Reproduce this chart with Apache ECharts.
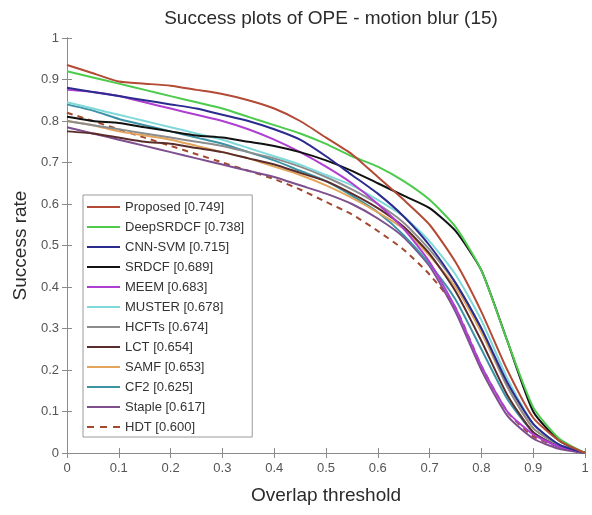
<!DOCTYPE html>
<html>
<head>
<meta charset="utf-8">
<script src="https://cdn.jsdelivr.net/npm/echarts@6/dist/echarts.min.js"></script>
<style>html,body{margin:0;padding:0;background:#fff;}#c{width:592px;height:515px;}</style>
</head>
<body>
<div id="c"></div>
<script>
var thresholds = [0,0.05,0.1,0.15,0.2,0.25,0.3,0.35,0.4,0.45,0.5,0.55,0.6,0.65,0.7,0.75,0.8,0.85,0.9,0.95,1];
var names = ['Proposed [0.749]','DeepSRDCF [0.738]','CNN-SVM [0.715]','SRDCF [0.689]','MEEM [0.683]','MUSTER [0.678]','HCFTs [0.674]','LCT [0.654]','SAMF [0.653]','CF2 [0.625]','Staple [0.617]','HDT [0.600]'];
var proposed  = [0.935,0.915,0.895,0.89,0.885,0.875,0.865,0.85,0.83,0.80,0.76,0.72,0.665,0.61,0.55,0.46,0.34,0.20,0.085,0.03,0];
var deepsrdcf = [0.92,0.905,0.89,0.875,0.86,0.845,0.83,0.81,0.79,0.77,0.745,0.715,0.69,0.655,0.61,0.545,0.44,0.27,0.11,0.035,0];
var cnnsvm    = [0.88,0.87,0.86,0.85,0.84,0.83,0.815,0.80,0.78,0.755,0.715,0.67,0.625,0.57,0.50,0.41,0.30,0.17,0.07,0.02,0];
var srdcf     = [0.81,0.80,0.795,0.785,0.775,0.765,0.76,0.75,0.74,0.725,0.705,0.68,0.65,0.62,0.59,0.535,0.44,0.27,0.10,0.03,0];
var meem      = [0.875,0.87,0.86,0.845,0.83,0.815,0.80,0.78,0.755,0.725,0.69,0.65,0.60,0.54,0.46,0.35,0.21,0.10,0.045,0.015,0];
var muster    = [0.845,0.83,0.815,0.80,0.785,0.77,0.755,0.735,0.715,0.695,0.67,0.645,0.61,0.57,0.51,0.43,0.32,0.18,0.07,0.02,0];
var hcfts     = [0.80,0.79,0.78,0.77,0.76,0.75,0.74,0.725,0.71,0.69,0.665,0.635,0.60,0.555,0.49,0.41,0.30,0.16,0.06,0.02,0];
var lct       = [0.775,0.77,0.76,0.75,0.745,0.735,0.725,0.71,0.695,0.675,0.655,0.625,0.59,0.545,0.48,0.39,0.27,0.14,0.05,0.015,0];
var samf      = [0.80,0.79,0.775,0.765,0.755,0.74,0.725,0.71,0.69,0.67,0.645,0.615,0.58,0.54,0.475,0.40,0.29,0.16,0.06,0.02,0];
var cf2       = [0.84,0.825,0.805,0.79,0.775,0.76,0.745,0.725,0.705,0.68,0.655,0.62,0.58,0.525,0.455,0.37,0.25,0.13,0.05,0.015,0];
var staple    = [0.785,0.77,0.755,0.74,0.725,0.71,0.695,0.68,0.665,0.645,0.625,0.60,0.565,0.52,0.45,0.34,0.20,0.09,0.035,0.01,0];
var hdt       = [0.82,0.80,0.78,0.76,0.74,0.72,0.70,0.68,0.66,0.635,0.605,0.575,0.535,0.49,0.43,0.35,0.21,0.10,0.04,0.015,0];
var xTicks = [0,0.1,0.2,0.3,0.4,0.5,0.6,0.7,0.8,0.9,1];
var yTicks = [0,0.1,0.2,0.3,0.4,0.5,0.6,0.7,0.8,0.9,1];

var allData = [proposed,deepsrdcf,cnnsvm,srdcf,meem,muster,hcfts,lct,samf,cf2,staple,hdt];
var colors = ['#b34a36','#4ccb4c','#2b2b8f','#111111','#b03ed2','#80d9d9','#8c8c8c','#5a2c2c','#e3a55c','#3c93a6','#7e4f8e','#a24a2e'];
var FONT = 'Liberation Sans, Arial, Helvetica, sans-serif';
var SOLID_ICON = 'path://M0,0 H33 V2 H0 Z';
var DASH_ICON = 'path://M0,0 H7 V2 H0 Z M13,0 H20 V2 H13 Z M26,0 H33 V2 H26 Z';

var series = allData.map(function(d, i){
  return {
    name: names[i], type: 'line', xAxisIndex: 0, yAxisIndex: 0,
    data: thresholds.map(function(t, k){ return [t, d[k]]; }),
    showSymbol: false, symbol: 'none', smooth: 0.2,
    lineStyle: {color: colors[i], width: 2, type: i === 11 ? [6,5] : 'solid'},
    itemStyle: {color: colors[i]},
    z: 20 - i
  };
});

var legendData = names.map(function(n, i){
  return {name: n, icon: i === 11 ? DASH_ICON : SOLID_ICON, itemStyle: {color: colors[i], borderWidth: 0}};
});

var axisColor = '#8a8a8a';
function fmt(v){ return String(+(+v).toFixed(1)); }
var chart = echarts.init(document.getElementById('c'), null, {renderer: 'canvas'});
chart.setOption({
  animation: false,
  backgroundColor: '#fff',
  title: {text: 'Success plots of OPE - motion blur (15)', left: 326, textAlign: 'center', top: 4,
    textStyle: {fontFamily: FONT, fontSize: 19, fontWeight: 'normal', color: '#2b2b2b'}},
  grid: {left: 67, top: 38, width: 518, height: 415},
  legend: {
    orient: 'vertical', left: 83, top: 195, padding: [5, 8, 3, 4],
    itemWidth: 33, itemHeight: 2.5, itemGap: 6,
    backgroundColor: '#fff', borderColor: '#9a9a9a', borderWidth: 1,
    textStyle: {fontFamily: FONT, fontSize: 13, color: '#333', lineHeight: 14, height: 14},
    data: legendData
  },
  xAxis: [
    {type: 'value', min: 0, max: 1, interval: 0.1, position: 'bottom',
      name: 'Overlap threshold', nameLocation: 'middle', nameGap: 33,
      nameTextStyle: {fontFamily: FONT, fontSize: 19, color: '#2b2b2b'},
      axisLine: {lineStyle: {color: axisColor}}, axisTick: {inside: true, length: 5, lineStyle: {color: axisColor}},
      axisLabel: {fontFamily: FONT, fontSize: 13, color: '#555', margin: 9, formatter: fmt},
      splitLine: {show: false}},
    {type: 'value', min: 0, max: 1, interval: 0.1, position: 'top',
      axisLine: {lineStyle: {color: axisColor}}, axisTick: {inside: true, length: 5, lineStyle: {color: axisColor}},
      axisLabel: {show: false}, splitLine: {show: false}}
  ],
  yAxis: [
    {type: 'value', min: 0, max: 1, interval: 0.1, position: 'left',
      name: 'Success rate', nameLocation: 'middle', nameGap: 35, nameRotate: 90,
      nameTextStyle: {fontFamily: FONT, fontSize: 19, color: '#2b2b2b'},
      axisLine: {show: true, lineStyle: {color: axisColor}}, axisTick: {show: true, inside: true, length: 5, lineStyle: {color: axisColor}},
      axisLabel: {fontFamily: FONT, fontSize: 13, color: '#555', margin: 8, formatter: fmt},
      splitLine: {show: false}},
    {type: 'value', min: 0, max: 1, interval: 0.1, position: 'right',
      axisLine: {show: true, lineStyle: {color: axisColor}}, axisTick: {show: true, inside: true, length: 5, lineStyle: {color: axisColor}},
      axisLabel: {show: false}, splitLine: {show: false}}
  ],
  series: series
});
</script>
</body>
</html>
